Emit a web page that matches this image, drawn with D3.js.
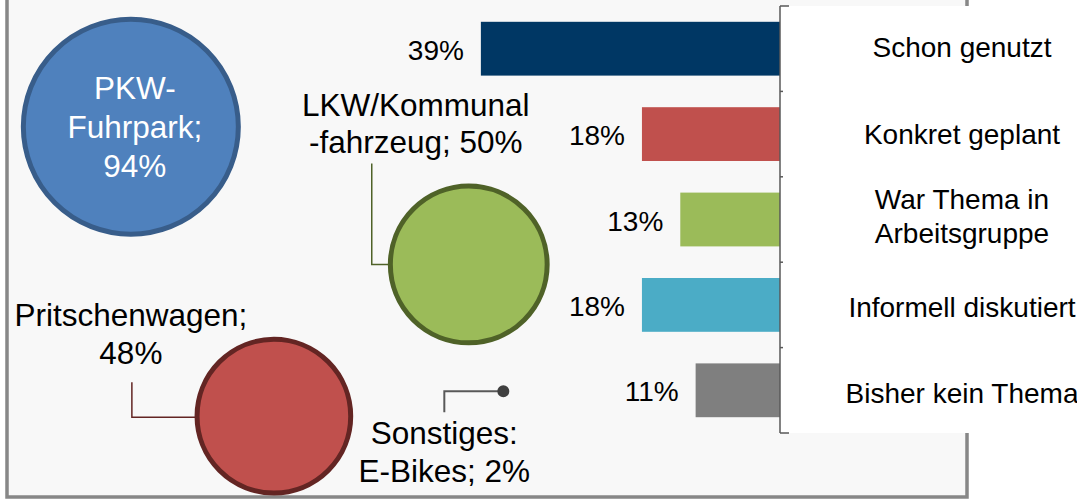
<!DOCTYPE html>
<html>
<head>
<meta charset="utf-8">
<script src="https://cdn.jsdelivr.net/npm/d3@7.9.0/dist/d3.min.js"></script>
<style>
  body { margin: 0; background: #fff; }
  text { font-family: "Liberation Sans", Arial, sans-serif; fill: #000; }
</style>
</head>
<body>
<svg id="chart" width="1077" height="499"></svg>
<script>
// bubble series (fleet types)
const bubbleNames = ["PKW-Fuhrpark", "LKW/Kommunalfahrzeug", "Pritschenwagen", "Sonstiges: E-Bikes"];
const bubbleValues = [94, 50, 48, 2];
const bubbleX = [1.29, 4.81, 2.78, 5.17];
const bubbleY = [3.73, 2.35, 0.83, 1.08];
const bubbleLines = [
  ["PKW-", "Fuhrpark;", "94%"],
  ["LKW/Kommunal", "-fahrzeug; 50%"],
  ["Pritschenwagen;", "48%"],
  ["Sonstiges:", "E-Bikes; 2%"]
];

// bar series (status)
const statusLabels = ["Schon genutzt", "Konkret geplant", "War Thema in Arbeitsgruppe", "Informell diskutiert", "Bisher kein Thema"];
const statusLegend = [["Schon genutzt"], ["Konkret geplant"], ["War Thema in", "Arbeitsgruppe"], ["Informell diskutiert"], ["Bisher kein Thema"]];
const statusValues = [39, 18, 13, 18, 11];

const barColors = ["#003764", "#c0504d", "#9bbb59", "#4bacc6", "#7f7f7f"];
const bubbleFill = ["#4f81bd", "#9bbb59", "#c0504d", "#404040"];
const bubbleStroke = ["#385d8a", "#4f6228", "#632523", "#404040"];

const svg = d3.select("#chart");

// plot area
svg.append("rect")
  .attr("x", 7).attr("y", -10)
  .attr("width", 960).attr("height", 507)
  .attr("fill", "#f8f8f8")
  .attr("stroke", "#878787")
  .attr("stroke-width", 3.5);

// ---- bubbles ----
const bx = d3.scaleLinear().domain([0, 10]).range([7, 967]);
const by = d3.scaleLinear().domain([0, 5]).range([499, 0]);
const r = d3.scaleSqrt().domain([0, 94]).range([0, 107.5]);
const radius = i => bubbleValues[i] < 5 ? 5 : r(bubbleValues[i]);

const bubbles = bubbleValues.map((v, i) => ({
  name: bubbleNames[i], value: v, cx: bx(bubbleX[i]), cy: by(bubbleY[i]), r: radius(i), i
}));

// label placement relative to bubble centre: [dx, first baseline dy, line gap]
const labelPos = [[4, -28, 39], [-53, -148, 37], [-143, -90, 38], [-59, 53, 38]];

// leader lines
const leaders = [
  null,
  b => [[b.cx - 97, b.cy - 101], [b.cx - 97, b.cy], [b.cx - b.r, b.cy]],
  b => [[b.cx - 142, b.cy - 34], [b.cx - 142, b.cy + 1], [b.cx - b.r, b.cy + 1]],
  b => [[b.cx, b.cy], [b.cx - 59, b.cy], [b.cx - 59, b.cy + 21]]
];

bubbles.forEach(b => {
  if (!leaders[b.i]) return;
  svg.append("path")
    .attr("d", d3.line()(leaders[b.i](b)))
    .attr("fill", "none")
    .attr("stroke", b.i === 3 ? "#595959" : bubbleStroke[b.i])
    .attr("stroke-width", b.i === 3 ? 2 : 1.5);
});

svg.selectAll(".bubble")
  .data(bubbles)
  .enter()
  .append("circle")
  .attr("class", "bubble")
  .attr("cx", d => d.cx)
  .attr("cy", d => d.cy)
  .attr("r", d => d.r)
  .attr("fill", d => bubbleFill[d.i])
  .attr("stroke", d => bubbleStroke[d.i])
  .attr("stroke-width", d => d.i === 3 ? 2 : 5);

bubbles.forEach(b => {
  const [dx, dy, gap] = labelPos[b.i];
  const t = svg.append("text")
    .attr("text-anchor", "middle")
    .style("font-size", "31.5px")
    .style("fill", b.i === 0 ? "#fff" : "#000");
  bubbleLines[b.i].forEach((line, k) => {
    t.append("tspan")
      .attr("x", b.cx + dx)
      .attr("y", b.cy + dy + k * gap)
      .text(line);
  });
});

// ---- bars ----
const axisX = 780;
const y = d3.scaleBand().domain(statusLabels).range([6, 433]).paddingInner(0.37).paddingOuter(0.185);
const x = d3.scaleLinear().domain([0, 100]).range([axisX, axisX - 767]);

svg.selectAll(".bar")
  .data(statusValues)
  .enter()
  .append("rect")
  .attr("class", "bar")
  .attr("x", d => x(d))
  .attr("width", d => x(0) - x(d))
  .attr("y", (d, i) => y(statusLabels[i]))
  .attr("height", y.bandwidth())
  .attr("fill", (d, i) => barColors[i]);

svg.selectAll(".val")
  .data(statusValues)
  .enter()
  .append("text")
  .attr("class", "val")
  .attr("text-anchor", "end")
  .attr("x", d => x(d) - 17)
  .attr("y", (d, i) => y(statusLabels[i]) + y.bandwidth() / 2 + 11)
  .style("font-size", "28px")
  .text(d => d + "%");

// legend panel
svg.append("rect")
  .attr("x", axisX).attr("y", 6)
  .attr("width", 1077 - axisX + 5).attr("height", 427)
  .attr("fill", "#fff");

const ly = d3.scalePoint().domain(statusLabels).range([57, 403]);
statusLegend.forEach((lines, i) => {
  const t = svg.append("text")
    .attr("text-anchor", "middle")
    .style("font-size", "28px");
  const base = ly(statusLabels[i]) - (lines.length - 1) * 21;
  lines.forEach((line, k) => {
    t.append("tspan").attr("x", 962).attr("y", base + k * 34).text(line);
  });
});

// category axis line with ticks
const edges = [6].concat(statusLabels.map(c => y(c) + y.bandwidth() + y.step() * y.paddingInner() / 2));
edges[edges.length - 1] = 433;
svg.append("line")
  .attr("x1", axisX).attr("x2", axisX)
  .attr("y1", 6).attr("y2", 433)
  .attr("stroke", "#595959").attr("stroke-width", 1.5);
svg.selectAll(".tick")
  .data(edges)
  .enter()
  .append("line")
  .attr("x1", axisX)
  .attr("x2", (d, i) => i === 0 || i === edges.length - 1 ? axisX + 9 : axisX + 3)
  .attr("y1", d => d).attr("y2", d => d)
  .attr("stroke", "#595959").attr("stroke-width", 1.5);
</script>
</body>
</html>
